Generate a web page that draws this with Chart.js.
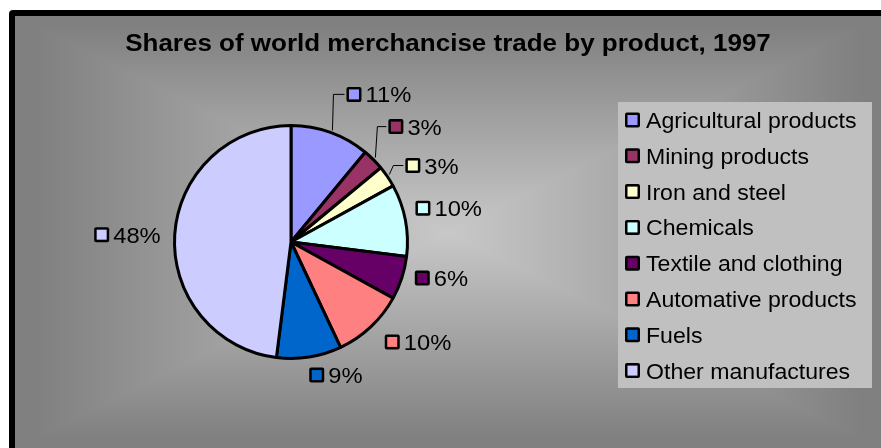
<!DOCTYPE html>
<html>
<head>
<meta charset="utf-8">
<title>Shares of world merchancise trade by product, 1997</title>
<script src="https://cdn.jsdelivr.net/npm/chart.js@4.4.0/dist/chart.umd.min.js"></script>
<style>
  html, body { margin: 0; padding: 0; background: #888; overflow: hidden; }
  canvas { display: block; }
</style>
</head>
<body>
<canvas id="tradePie" width="881" height="448"></canvas>
<script>
var chartTitle = 'Shares of world merchancise trade by product, 1997';
var productLabels = ['Agricultural products', 'Mining products', 'Iron and steel', 'Chemicals',
                     'Textile and clothing', 'Automative products', 'Fuels', 'Other manufactures'];
var tradeShares = [11, 3, 3, 10, 6, 10, 9, 48];
var sliceColors = ['#9999FF', '#993366', '#FFFFCC', '#CCFFFF', '#660066', '#FF8080', '#0066CC', '#CCCCFF'];

// where each percentage tag sits, measured from the rim at the slice middle
var tagNudge = [[16, -38], [15, -33], [18, -11], [10, -12], [13, 0], [14, 15], [0, 18], [-14, 0]];
// slices whose tag is pulled away and gets a leader line (value = elbow distance)
var leaderElbow = [13, 11, 12, 0, 0, 0, 0, 0];

var FONT = '"Liberation Sans", Arial, sans-serif';

function wideText(ctx, text, x, y, font, sx) {
    ctx.save();
    ctx.font = font;
    ctx.translate(x, y);
    ctx.scale(sx, 1);
    ctx.fillText(text, 0, 0);
    ctx.restore();
}

function keyBox(ctx, x, cy, color) {
    ctx.fillStyle = '#000';
    ctx.beginPath();
    ctx.roundRect(x, cy - 7.5, 15, 15, 2);
    ctx.fill();
    ctx.fillStyle = color;
    ctx.fillRect(x + 2.5, cy - 5, 10, 10);
}

// grey "from centre" fill, black frame along the top and left only
var shade = null;
function makeShade(w, h, cx, cy) {
    var c = document.createElement('canvas');
    c.width = w; c.height = h;
    var g = c.getContext('2d');
    var img = g.createImageData(w, h);
    var hw = Math.max(cx, w - cx), hh = Math.max(cy, h - cy);
    var inner = 200, outer = 128;
    for (var y = 0; y < h; y++) {
        for (var x = 0; x < w; x++) {
            var t = Math.max(Math.abs(x - cx) / hw, Math.abs(y - cy) / hh);
            var v = Math.round(inner + (outer - inner) * Math.min(1, t * 1.05));
            var k = (y * w + x) * 4;
            img.data[k] = img.data[k + 1] = img.data[k + 2] = v;
            img.data[k + 3] = 255;
        }
    }
    g.putImageData(img, 0, 0);
    return c;
}

var backdrop = {
    id: 'backdrop',
    beforeDraw: function(chart) {
        var ctx = chart.ctx, W = chart.width, H = chart.height;
        ctx.save();
        ctx.fillStyle = '#fff';
        ctx.fillRect(0, 0, W, H);
        if (!shade) shade = makeShade(W - 15, H - 16, 448 - 15, 232 - 16);
        ctx.drawImage(shade, 15, 16);
        ctx.fillStyle = '#000';
        ctx.beginPath();
        ctx.moveTo(W, 10);
        ctx.lineTo(13, 10);
        ctx.arcTo(9, 10, 9, 14, 4);
        ctx.lineTo(9, H);
        ctx.lineTo(15, H);
        ctx.lineTo(15, 16);
        ctx.lineTo(W, 16);
        ctx.closePath();
        ctx.fill();
        ctx.restore();
    }
};

// percentage tags next to each slice, with a small key square
var sliceTags = {
    id: 'sliceTags',
    afterDatasetsDraw: function(chart) {
        var ctx = chart.ctx;
        var ds = chart.data.datasets[0];
        var total = ds.data.reduce(function(a, b) { return a + b; }, 0);
        var meta = chart.getDatasetMeta(0);
        ctx.save();
        meta.data.forEach(function(arc, i) {
            var p = arc.getProps(['x', 'y', 'startAngle', 'endAngle', 'outerRadius'], true);
            var mid = (p.startAngle + p.endAngle) / 2;
            var ex = p.x + Math.cos(mid) * p.outerRadius;
            var ey = p.y + Math.sin(mid) * p.outerRadius;
            var ax = ex + tagNudge[i][0], ay = ey + tagNudge[i][1];
            var text = Math.round(ds.data[i] / total * 100) + '%';

            ctx.font = '22px ' + FONT;
            var tw = ctx.measureText(text).width * 1.08;
            var left = Math.cos(mid) < 0 ? ax - 19 - tw : ax;

            if (leaderElbow[i]) {
                ctx.strokeStyle = '#000';
                ctx.lineWidth = 1;
                ctx.beginPath();
                ctx.moveTo(ex + 2, ey - 2);
                ctx.lineTo(ax - leaderElbow[i], ay);
                ctx.lineTo(ax - 2, ay);
                ctx.stroke();
            }
            keyBox(ctx, left, ay, ds.backgroundColor[i]);
            ctx.fillStyle = '#000';
            ctx.textBaseline = 'alphabetic';
            ctx.textAlign = 'left';
            wideText(ctx, text, left + 19, ay + 8, '22px ' + FONT, 1.08);
        });
        ctx.restore();
    }
};

// title across the top and the boxed legend on the right
var titleAndKey = {
    id: 'titleAndKey',
    afterDraw: function(chart) {
        var ctx = chart.ctx;
        var ds = chart.data.datasets[0];
        ctx.save();
        ctx.fillStyle = '#000';
        ctx.textBaseline = 'alphabetic';
        ctx.textAlign = 'center';
        wideText(ctx, chartTitle, 448, 51, 'bold 23px ' + FONT, 1.13);

        ctx.fillStyle = '#C0C0C0';
        ctx.fillRect(618, 102, 254, 286);
        ctx.textAlign = 'left';
        chart.data.labels.forEach(function(lab, i) {
            var cy = 120 + i * 35.8;
            keyBox(ctx, 625, cy, ds.backgroundColor[i]);
            ctx.fillStyle = '#000';
            wideText(ctx, lab, 646, cy + 8, '22px ' + FONT, 1.05);
        });
        ctx.restore();
    }
};

var ctx = document.getElementById('tradePie').getContext('2d');
var tradePie = new Chart(ctx, {
    type: 'pie',
    data: {
        labels: productLabels,
        datasets: [{
            data: tradeShares,
            backgroundColor: sliceColors,
            borderColor: '#000',
            borderWidth: 3
        }]
    },
    options: {
        responsive: false,
        animation: false,
        events: [],
        layout: { padding: { left: 173, right: 472, top: 124, bottom: 88 } },
        plugins: {
            legend: { display: false },
            title: { display: false },
            tooltip: { enabled: false }
        }
    },
    plugins: [backdrop, sliceTags, titleAndKey]
});
</script>
</body>
</html>
